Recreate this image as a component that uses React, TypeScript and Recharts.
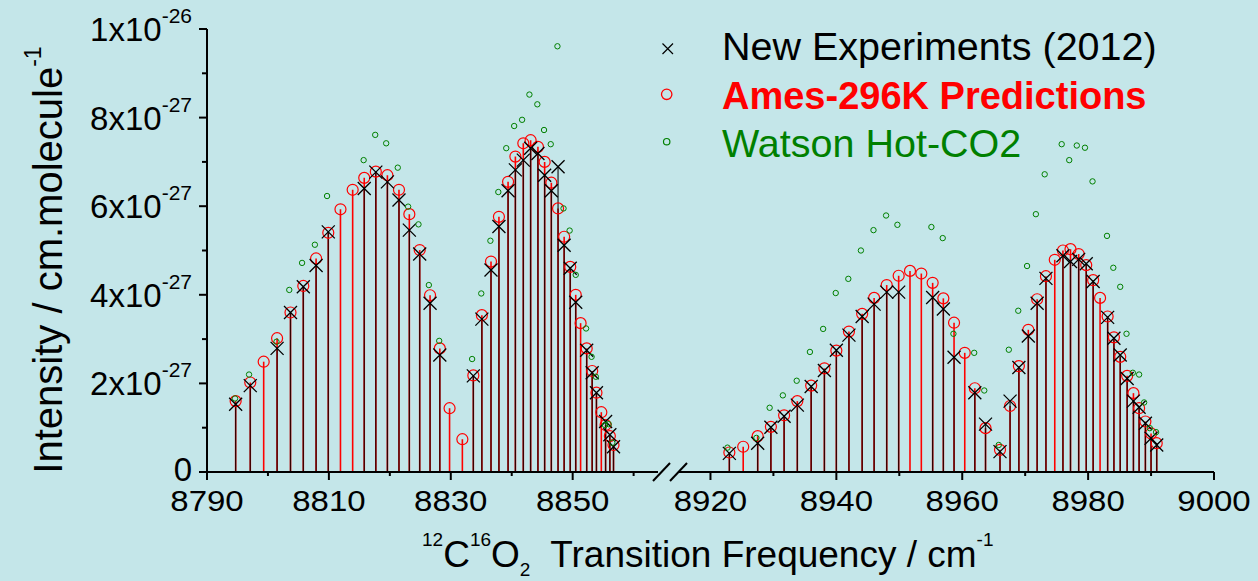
import React from 'react';
import { ScatterChart, Scatter, XAxis, YAxis, ErrorBar } from 'recharts';

const W = 1258;
const H = 581;
const BG = '#c4e6e9';
const FONT = '"Liberation Sans", Arial, Helvetica, sans-serif';
const RED = '#ff0000';
const GREEN = '#008000';

// line positions (cm-1) and intensities in units of 1e-27 cm/molecule
const LEFT_LINES = [
  8794.7, 8797.1, 8799.3, 8801.5, 8803.7, 8805.8, 8807.9, 8809.9, 8811.9, 8813.9,
  8815.8, 8817.7, 8819.6, 8821.5, 8823.2, 8824.9, 8826.6, 8828.2, 8829.8, 8831.9,
  8833.7, 8835.1, 8836.6, 8837.9, 8839.4, 8840.6, 8841.9, 8843.1, 8844.3, 8845.4,
  8846.5, 8847.6, 8848.6, 8849.6, 8850.5, 8851.3, 8852.3, 8853.2, 8853.9, 8854.7,
  8855.4, 8856.1, 8856.7,
];
const LEFT_AMES = [
  1.60, 2.02, 2.49, 3.02, 3.60, 4.20, 4.82, 5.40, 5.93, 6.37,
  6.64, 6.78, 6.70, 6.37, 5.82, 5.01, 3.99, 2.79, 1.44, 0.74,
  2.18, 3.54, 4.75, 5.76, 6.55, 7.12, 7.42, 7.49, 7.34, 7.00,
  6.53, 5.95, 5.31, 4.63, 4.00, 3.36, 2.79, 2.28, 1.79, 1.35,
  1.06, 0.81, 0.61,
];
const LEFT_EXP = [
  1.53, 1.95, null, 2.79, 3.60, 4.18, 4.66, 5.42, null, null,
  6.40, 6.77, 6.55, 6.14, 5.46, 4.92, 3.81, 2.64, null, null,
  2.17, 3.45, 4.56, 5.54, 6.35, 6.82, 7.04, 7.31, 7.19, 6.70,
  6.35, 6.89, 5.12, 4.60, 3.83, null, 2.75, 2.24, 1.79, null,
  1.14, 0.84, 0.57,
];
const LEFT_WATSON_X = [
  8794.6, 8796.9, 8801.4, 8803.5, 8805.6, 8807.7, 8809.7, 8815.7, 8817.6, 8819.4,
  8821.3, 8823.0, 8824.7, 8826.4, 8828.1, 8833.5, 8835.0, 8836.5, 8837.8, 8839.1,
  8840.4, 8841.7, 8842.9, 8844.2, 8845.3, 8846.4, 8847.5, 8848.5, 8849.5, 8850.5,
  8852.2, 8853.1, 8853.8, 8855.3, 8855.9, 8856.5,
];
const LEFT_WATSON = [
  1.66, 2.20, 2.94, 4.11, 4.72, 5.13, 6.23, 7.04, 7.61, 7.42,
  6.87, 5.99, 5.59, 4.22, 2.96, 2.55, 4.03, 5.22, 6.32, 7.31,
  7.81, 7.95, 8.52, 8.30, 7.72, 7.40, 9.61, 5.95, 5.45, 4.45,
  3.24, 2.60, 2.15, 1.06, 1.08, 0.66,
];

const RIGHT_LINES = [
  8923.0, 8925.2, 8927.5, 8929.6, 8931.7, 8933.8, 8936.0, 8938.1, 8940.0, 8942.0,
  8944.1, 8946.0, 8948.0, 8949.9, 8951.7, 8953.5, 8955.3, 8957.0, 8958.7, 8960.4,
  8962.0, 8963.7, 8966.0, 8967.6, 8969.0, 8970.5, 8971.9, 8973.3, 8974.7, 8976.0,
  8977.2, 8978.5, 8979.7, 8980.8, 8981.9, 8983.1, 8984.1, 8985.1, 8986.2, 8987.2,
  8988.1, 8989.1, 8990.0, 8990.9,
];
const RIGHT_AMES = [
  0.44, 0.57, 0.81, 1.02, 1.28, 1.60, 1.95, 2.34, 2.74, 3.17,
  3.57, 3.93, 4.22, 4.43, 4.54, 4.48, 4.27, 3.92, 3.37, 2.69,
  1.89, 0.99, 0.50, 1.49, 2.39, 3.21, 3.90, 4.42, 4.79, 5.00,
  5.03, 4.92, 4.67, 4.33, 3.93, 3.51, 3.04, 2.60, 2.17, 1.78,
  1.44, 1.14, 0.87, 0.65,
];
const RIGHT_EXP = [
  0.42, null, 0.65, 1.01, 1.26, 1.51, 1.93, 2.29, 2.75, 3.09,
  3.51, 3.79, 4.06, 4.06, null, null, 3.94, 3.68, 2.59, null,
  1.79, 1.08, 0.46, 1.60, 2.36, 3.07, 3.81, 4.37, null, 4.88,
  4.75, 4.80, 4.70, 4.30, null, 3.49, 3.02, 2.64, 2.11, 1.60,
  1.46, 1.10, 0.76, 0.61,
];
const RIGHT_WATSON_X = [
  8922.7, 8927.3, 8929.4, 8931.5, 8933.7, 8935.8, 8937.9, 8939.9, 8941.9, 8943.9,
  8945.9, 8947.9, 8949.7, 8955.1, 8956.9, 8958.6, 8961.9, 8963.5, 8965.8, 8967.4,
  8968.9, 8970.3, 8971.7, 8973.1, 8975.8, 8977.0, 8978.2, 8979.5, 8980.7, 8983.0,
  8984.0, 8985.1, 8986.1, 8987.1, 8988.1, 8988.9, 8989.8, 8990.8,
];
const RIGHT_WATSON = [
  0.55, 0.77, 1.45, 1.73, 2.06, 2.71, 3.23, 4.04, 4.36, 5.00,
  5.46, 5.79, 5.58, 5.53, 5.28, 3.12, 2.69, 1.84, 0.61, 2.76,
  3.64, 4.65, 5.82, 6.72, 7.40, 7.04, 7.37, 7.32, 6.56, 5.33,
  4.61, 4.18, 3.12, 2.24, 2.20, 1.57, 0.99, 0.90,
];

const LEFT_DOMAIN = [8790, 8864];
const RIGHT_DOMAIN = [8915, 9000];
const LEFT_TICKS = [8790, 8800, 8810, 8820, 8830, 8840, 8850, 8860];
const LEFT_LABELS = [8790, 8810, 8830, 8850];
const RIGHT_TICKS = [8920, 8930, 8940, 8950, 8960, 8970, 8980, 8990, 9000];
const RIGHT_LABELS = [8920, 8940, 8960, 8980, 9000];
const Y_TICKS = [0, 1, 2, 3, 4, 5, 6, 7, 8, 9, 10];
const Y_LABELS: Record<number, [string, string]> = {
  0: ['0', ''],
  2: ['2x10', '-27'],
  4: ['4x10', '-27'],
  6: ['6x10', '-27'],
  8: ['8x10', '-27'],
  10: ['1x10', '-26'],
};

type Pt = { x: number; y: number; err: [number, number] };

// pair positions with values, skip missing lines; err draws the stick down to zero
function toPoints(xs: number[], ys: (number | null)[]): Pt[] {
  const out: Pt[] = [];
  xs.forEach((x, i) => {
    const y = ys[i];
    if (y != null) out.push({ x, y, err: [y, 0] });
  });
  return out;
}

const RedCircle = (p: any) => (
  <circle cx={p.cx} cy={p.cy} r={5.5} fill="none" stroke={RED} strokeWidth={1.2} />
);
const Cross = (p: any) => {
  const s = 6.5;
  return (
    <path
      d={`M${p.cx - s},${p.cy - s}L${p.cx + s},${p.cy + s}M${p.cx - s},${p.cy + s}L${p.cx + s},${p.cy - s}`}
      stroke="#000"
      strokeWidth={1.3}
      fill="none"
    />
  );
};
const GreenDot = (p: any) => (
  <circle cx={p.cx} cy={p.cy} r={2.7} fill="none" stroke={GREEN} strokeWidth={1} />
);

// frequency labels are drawn slightly wide
const XTick = ({ x, y, payload, labels }: any) => {
  const major = labels.includes(payload.value);
  return (
    <g>
      <line x1={x} x2={x} y1={y} y2={y + (major ? 8 : 4)} stroke="#000" strokeWidth={2} />
      {major && (
        <text
          transform={`translate(${x},${y + 39}) scale(1.1,1)`}
          textAnchor="middle"
          fontSize={30}
          fontFamily={FONT}
          fill="#000"
        >
          {payload.value}
        </text>
      )}
    </g>
  );
};

const YTick = ({ x, y, payload }: any) => {
  const lab = Y_LABELS[payload.value];
  return (
    <g>
      <line x1={x - (lab ? 8 : 5)} x2={x} y1={y} y2={y} stroke="#000" strokeWidth={2} />
      {lab && (
        <text
          x={x - 15}
          y={y + (payload.value === 0 ? 9 : 12)}
          textAnchor="end"
          fontSize={33}
          fontFamily={FONT}
          fill="#000"
        >
          {lab[0]}
          {lab[1] && (
            <tspan dy={-18} fontSize={21}>
              {lab[1]}
            </tspan>
          )}
        </text>
      )}
    </g>
  );
};

function Segment({ lines, ames, exp, wx, wy, domain, ticks, labels, margin, showY }: any) {
  return (
    <ScatterChart width={W} height={H} margin={margin}>
      <XAxis
        type="number"
        dataKey="x"
        domain={domain}
        ticks={ticks}
        interval={0}
        allowDataOverflow
        height={109}
        tickLine={false}
        tickSize={0}
        tickMargin={0}
        axisLine={{ stroke: '#000', strokeWidth: 2 }}
        tick={(p: any) => <XTick {...p} labels={labels} />}
      />
      <YAxis
        type="number"
        dataKey="y"
        domain={[0, 10]}
        ticks={Y_TICKS}
        interval={0}
        allowDataOverflow
        hide={!showY}
        width={207}
        tickLine={false}
        tickSize={0}
        tickMargin={0}
        axisLine={{ stroke: '#000', strokeWidth: 2 }}
        tick={(p: any) => <YTick {...p} />}
      />
      <Scatter data={toPoints(lines, ames)} shape={RedCircle} isAnimationActive={false}>
        <ErrorBar dataKey="err" direction="y" width={0} stroke={RED} strokeWidth={1.6} isAnimationActive={false} />
      </Scatter>
      <Scatter data={toPoints(lines, exp)} shape={Cross} isAnimationActive={false}>
        <ErrorBar
          dataKey="err"
          direction="y"
          width={0}
          stroke="#000"
          strokeOpacity={0.8}
          strokeWidth={1.3}
          isAnimationActive={false}
        />
      </Scatter>
      <Scatter data={toPoints(wx, wy)} shape={GreenDot} isAnimationActive={false} />
    </ScatterChart>
  );
}

export default function App() {
  const layer: React.CSSProperties = { position: 'absolute', left: 0, top: 0 };
  return (
    <div style={{ position: 'fixed', left: 0, top: 0, width: W, height: H, background: BG, fontFamily: FONT }}>
      <div style={layer}>
        <Segment
          lines={LEFT_LINES}
          ames={LEFT_AMES}
          exp={LEFT_EXP}
          wx={LEFT_WATSON_X}
          wy={LEFT_WATSON}
          domain={LEFT_DOMAIN}
          ticks={LEFT_TICKS}
          labels={LEFT_LABELS}
          margin={{ top: 29, right: W - 658, bottom: 0, left: 0 }}
          showY
        />
      </div>
      <div style={layer}>
        <Segment
          lines={RIGHT_LINES}
          ames={RIGHT_AMES}
          exp={RIGHT_EXP}
          wx={RIGHT_WATSON_X}
          wy={RIGHT_WATSON}
          domain={RIGHT_DOMAIN}
          ticks={RIGHT_TICKS}
          labels={RIGHT_LABELS}
          margin={{ top: 29, right: 44, bottom: 0, left: 679 }}
          showY={false}
        />
      </div>
      {/* axis titles, axis break and legend */}
      <svg width={W} height={H} style={{ ...layer, pointerEvents: 'none' }} fontFamily={FONT}>
        <line x1={653} y1={481} x2={670} y2={463} stroke="#000" strokeWidth={2} />
        <line x1={670} y1={481} x2={687} y2={463} stroke="#000" strokeWidth={2} />

        <text transform="rotate(-90)" x={-260} y={62} textAnchor="middle" fontSize={40} fill="#000">
          Intensity / cm.molecule
          <tspan dy={-21} fontSize={23}>-1</tspan>
        </text>

        <text x={422} y={567} fontSize={37} fill="#000" style={{ whiteSpace: 'pre' }}>
          <tspan fontSize={19} dy={-21}>12</tspan>
          <tspan dy={21}>C</tspan>
          <tspan fontSize={19} dy={-21}>16</tspan>
          <tspan dy={21}>O</tspan>
          <tspan fontSize={19} dy={9}>2</tspan>
          <tspan dy={-9}>{'  Transition Frequency / cm'}</tspan>
          <tspan fontSize={19} dy={-21}>-1</tspan>
        </text>

        <path d="M662.5,43.5L673,54M662.5,54L673,43.5" stroke="#000" strokeWidth={1.2} fill="none" />
        <text x={722} y={60} fontSize={39.5} fill="#000">New Experiments (2012)</text>
        <circle cx={666.7} cy={94.3} r={5.2} fill="none" stroke={RED} strokeWidth={1.3} />
        <text x={722} y={109} fontSize={38} fontWeight="bold" fill={RED}>Ames-296K Predictions</text>
        <circle cx={666.7} cy={141.7} r={3.2} fill="none" stroke={GREEN} strokeWidth={1.2} />
        <text x={722} y={157} fontSize={39.5} fill={GREEN}>Watson Hot-CO2</text>
      </svg>
    </div>
  );
}
